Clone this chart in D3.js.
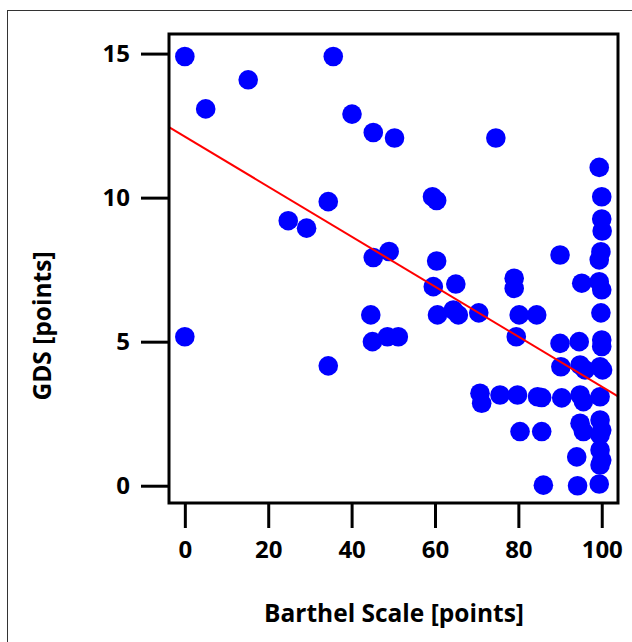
<!DOCTYPE html>
<html>
<head>
<meta charset="utf-8">
<title>GDS vs Barthel Scale</title>
<script src="https://cdn.jsdelivr.net/npm/d3@7"></script>
<style>
  body { margin: 0; padding: 0; background: #fff; }
  svg text { font-family: 'Open Sans', 'Noto Sans', sans-serif; font-weight: 700; fill: #000; }
</style>
</head>
<body>
<div id="chart"></div>
<script>
// Barthel Scale (x) and GDS (y) for each patient
const barthel = [0, 5, 15.2, 35.6, 40.1, 45.2, 50.3, 74.6, 99.4, 100, 100, 100.1, 99.8, 99.4,
  59.4, 60.4, 34.4, 24.8, 29.2, 45.2, 49, 60.4, 90, 79, 79, 59.6, 65, 95.2, 99.4, 100,
  60.6, 64.4, 65.6, 70.5, 80.2, 84.4, 99.8, 44.6, 0, 45, 48.6, 51.2, 79.5, 90, 94.6, 100, 100,
  34.4, 90.2, 94.8, 96, 99.6, 100.2, 70.8, 71.2, 75.6, 79.8, 84.6, 85.6, 90.4, 94.8, 95.6, 99.6,
  80.4, 85.6, 94.8, 95.6, 99.6, 100, 99.6, 94, 99.6, 100, 99.6, 86, 94.2, 99.4];
const gds = [14.9, 13.08, 14.09, 14.9, 12.9, 12.26, 12.07, 12.07, 11.05, 10.03, 9.26, 8.84, 8.12, 7.84,
  10.03, 9.9, 9.86, 9.2, 8.94, 7.92, 8.13, 7.8, 8.01, 7.2, 6.85, 6.91, 7.0, 7.03, 7.08, 6.8,
  5.93, 6.1, 5.93, 6.0, 5.93, 5.93, 6.0, 5.93, 5.17, 5.0, 5.17, 5.17, 5.17, 4.94, 5.0, 5.06, 4.83,
  4.16, 4.13, 4.19, 4.02, 4.13, 4.02, 3.21, 2.86, 3.15, 3.15, 3.09, 3.06, 3.05, 3.15, 2.92, 3.09,
  1.88, 1.88, 2.17, 1.88, 2.28, 1.93, 1.76, 1.0, 1.24, 0.89, 0.72, 0.02, 0.0, 0.06];

// fitted regression line, end points at the box edges
const fitX = [-3.8, 103.9];
const fitY = [12.45, 3.1];

const xTicks = [0, 20, 40, 60, 80, 100];
const yTicks = [0, 5, 10, 15];

const width = 632, height = 642;
const box = { left: 169, right: 618, top: 34, bottom: 503 };

const svg = d3.select("#chart").append("svg")
  .attr("width", width)
  .attr("height", height);

// thin outer frame
svg.append("rect")
  .attr("x", 7.5).attr("y", 10.5)
  .attr("width", 700).attr("height", 700)
  .attr("fill", "none")
  .attr("stroke", "#333")
  .attr("stroke-width", 1);

const x = d3.scaleLinear().domain([-3.8, 103.9]).range([box.left, box.right]);
const y = d3.scaleLinear().domain([-0.6, 15.68]).range([box.bottom, box.top]);

// axes (ticks only, detached from the plot box)
const xAxis = svg.append("g")
  .attr("transform", `translate(0,${box.bottom})`)
  .call(d3.axisBottom(x).tickValues(xTicks).tickSize(25).tickPadding(13).tickFormat(d3.format("d")));
const yAxis = svg.append("g")
  .attr("transform", `translate(${box.left},0)`)
  .call(d3.axisLeft(y).tickValues(yTicks).tickSize(28).tickPadding(11).tickFormat(d3.format("d")));

[xAxis, yAxis].forEach(g => {
  g.select(".domain").remove();
  g.selectAll(".tick line").attr("stroke", "#000").attr("stroke-width", 3);
  g.selectAll(".tick text").style("font-size", "24px");
});

// points
svg.append("g")
  .selectAll("circle")
  .data(d3.range(barthel.length))
  .join("circle")
  .attr("cx", i => x(barthel[i]))
  .attr("cy", i => y(gds[i]))
  .attr("r", 9.8)
  .attr("fill", "#0000ff");

// regression line
svg.append("line")
  .attr("x1", x(fitX[0])).attr("y1", y(fitY[0]))
  .attr("x2", x(fitX[1])).attr("y2", y(fitY[1]))
  .attr("stroke", "#ff0000")
  .attr("stroke-width", 2);

// plot box
svg.append("rect")
  .attr("x", box.left).attr("y", box.top)
  .attr("width", box.right - box.left)
  .attr("height", box.bottom - box.top)
  .attr("fill", "none")
  .attr("stroke", "#000")
  .attr("stroke-width", 3);

// axis titles
svg.append("text")
  .attr("x", 394).attr("y", 622)
  .attr("text-anchor", "middle")
  .style("font-size", "24.5px")
  .text("Barthel Scale [points]");

svg.append("text")
  .attr("transform", "translate(51,326) rotate(-90)")
  .attr("text-anchor", "middle")
  .style("font-size", "24.5px")
  .text("GDS [points]");
</script>
</body>
</html>
